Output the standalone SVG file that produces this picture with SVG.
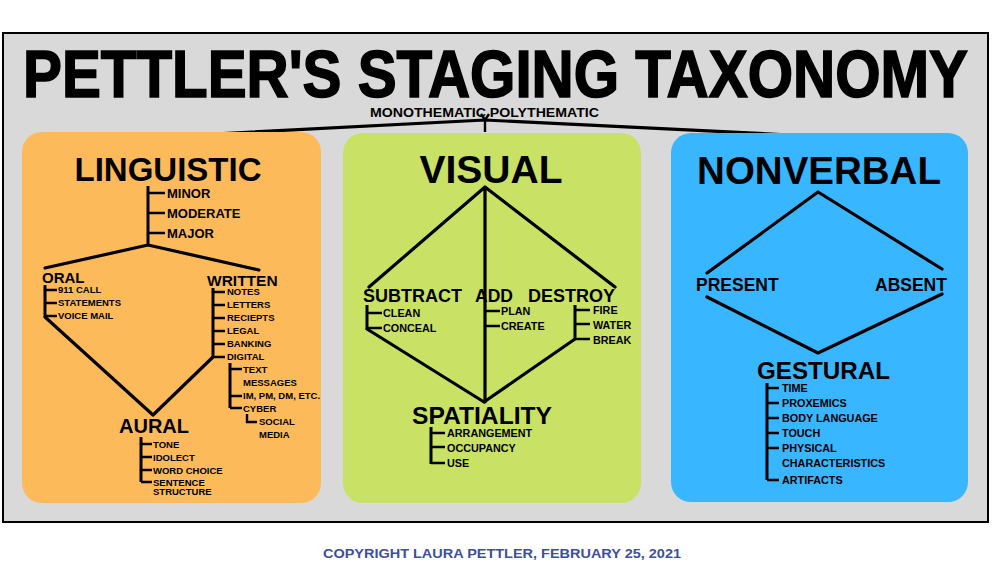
<svg xmlns="http://www.w3.org/2000/svg" width="1000" height="563" viewBox="0 0 1000 563">
<style>
.t{font-family:"Liberation Sans",Arial,sans-serif;font-weight:bold;fill:#000}
.h1{font-size:33px}
.h2{font-size:16px}
.s{font-size:9.5px}
.m{font-size:10.8px}
.ln{stroke:#000;stroke-width:3.2;fill:none;stroke-linecap:round;stroke-linejoin:round}
.tk{stroke:#000;stroke-width:2.4;fill:none}
.vl{stroke:#000;stroke-width:3;fill:none}
</style>
<rect x="0" y="0" width="1000" height="563" fill="#ffffff"/>
<rect x="3" y="33" width="985" height="489" fill="#d9d9d9" stroke="#000" stroke-width="2"/>
<g id="title">
<text class="t" x="23" y="97" font-size="66" textLength="945" lengthAdjust="spacingAndGlyphs" stroke="#000" stroke-width="1.6">PETTLER'S STAGING TAXONOMY</text>
<text class="t" x="370" y="117" font-size="13.5" textLength="229" lengthAdjust="spacingAndGlyphs">MONOTHEMATIC POLYTHEMATIC</text>
</g>
<g id="connectors-top">
<path class="ln" d="M195,135 L485,120 L790,135"/>
<path class="tk" d="M481,114 L485,120 L489,114 M485,120 L485,132"/>
</g>
<g id="panel-linguistic">
<rect x="22" y="132" width="299" height="371" rx="20" fill="#fdba5a"/>
</g>
<g id="panel-visual">
<rect x="343" y="133" width="298" height="370" rx="20" fill="#c9e265"/>
</g>
<g id="panel-nonverbal">
<rect x="671" y="133" width="297" height="369" rx="20" fill="#38b6ff"/>
</g>
<g id="connectors">
<!-- linguistic -->
<path class="vl" d="M148,186 L148,245"/>
<path class="tk" d="M148,193 H165 M148,213 H165 M148,233 H165"/>
<path class="ln" d="M45,268 L148,245 L259,270"/>
<path class="vl" d="M45,285 L45,317"/>
<path class="tk" d="M45,290 H57 M45,303 H57 M45,316 H57"/>
<path class="ln" d="M45,317 L153,415 L213,357"/>
<path class="vl" d="M213,288 L213,357"/>
<path class="tk" d="M213,292 H225 M213,305 H225 M213,318 H225 M213,331 H225 M213,344 H225 M213,357 H225"/>
<path class="vl" d="M230,363 L230,408"/>
<path class="tk" d="M230,369 H242 M230,396 H242 M230,408 H242"/>
<path class="tk" d="M247,414 L247,422 H257"/>
<path class="vl" d="M141,437 L141,482"/>
<path class="tk" d="M141,444 H152 M141,457 H152 M141,470 H152 M141,482 H152"/>
<!-- visual -->
<path class="ln" d="M369,287 L485,187 L615,287 M485,187 L485,402"/>
<path class="vl" d="M367,305 L367,329"/>
<path class="tk" d="M367,313 H382 M367,328 H382"/>
<path class="ln" d="M367,329 L484,402 L575,339"/>
<path class="tk" d="M485,311 H500 M485,326 H500"/>
<path class="vl" d="M575,305 L575,339"/>
<path class="tk" d="M575,310 H590 M575,324 H590 M575,339 H590"/>
<path class="vl" d="M431,427 L431,464"/>
<path class="tk" d="M431,433 H445 M431,447 H445 M431,463 H445"/>
<!-- nonverbal -->
<path class="ln" d="M707,273 L818,192 L942,269"/>
<path class="ln" d="M707,297 L818,353 L942,294"/>
<path class="vl" d="M767,383 L767,480"/>
<path class="tk" d="M767,388 H779 M767,403 H779 M767,418 H779 M767,433 H779 M767,448 H779 M767,480 H779"/>
</g>
<g id="linguistic">
<text class="t h1" x="168" y="181" text-anchor="middle">LINGUISTIC</text>
<text class="t" x="167" y="198" font-size="13">MINOR</text>
<text class="t" x="167" y="218" font-size="13">MODERATE</text>
<text class="t" x="167" y="238" font-size="13">MAJOR</text>
</g>
<g id="oral">
<text class="t" x="42" y="283" font-size="15">ORAL</text>
<text class="t s" x="58" y="293">911 CALL</text>
<text class="t s" x="58" y="306">STATEMENTS</text>
<text class="t s" x="58" y="319">VOICE MAIL</text>
</g>
<g id="written">
<text class="t" x="207" y="286" font-size="15.5">WRITTEN</text>
<text class="t s" x="227" y="295">NOTES</text>
<text class="t s" x="227" y="308">LETTERS</text>
<text class="t s" x="227" y="321">RECIEPTS</text>
<text class="t s" x="227" y="334">LEGAL</text>
<text class="t s" x="227" y="347">BANKING</text>
<text class="t s" x="227" y="360">DIGITAL</text>
<text class="t s" x="243" y="373">TEXT</text>
<text class="t s" x="243" y="386">MESSAGES</text>
<text class="t s" x="243" y="399">IM, PM, DM, ETC.</text>
<text class="t s" x="243" y="412">CYBER</text>
<text class="t s" x="259" y="425">SOCIAL</text>
<text class="t s" x="259" y="438">MEDIA</text>
</g>
<g id="aural">
<text class="t" x="119" y="433" font-size="20">AURAL</text>
<text class="t s" x="153" y="448">TONE</text>
<text class="t s" x="153" y="461">IDOLECT</text>
<text class="t s" x="153" y="474">WORD CHOICE</text>
<text class="t s" x="153" y="486">SENTENCE</text>
<text class="t s" x="153" y="495">STRUCTURE</text>
</g>
<g id="visual">
<text class="t" x="491" y="183" font-size="39" text-anchor="middle">VISUAL</text>
</g>
<g id="subtract">
<text class="t" x="363" y="302" font-size="18">SUBTRACT</text>
<text class="t m" x="383" y="317">CLEAN</text>
<text class="t m" x="383" y="332">CONCEAL</text>
</g>
<g id="add">
<text class="t" x="475" y="302" font-size="17.5">ADD</text>
<text class="t m" x="501" y="315">PLAN</text>
<text class="t m" x="501" y="330">CREATE</text>
</g>
<g id="destroy">
<text class="t" x="528" y="302" font-size="18">DESTROY</text>
<text class="t m" x="593" y="314">FIRE</text>
<text class="t m" x="593" y="329">WATER</text>
<text class="t m" x="593" y="344">BREAK</text>
</g>
<g id="spatiality">
<text class="t" x="412" y="424" font-size="23" textLength="140" lengthAdjust="spacingAndGlyphs">SPATIALITY</text>
<text class="t m" x="447" y="437">ARRANGEMENT</text>
<text class="t m" x="447" y="452">OCCUPANCY</text>
<text class="t m" x="447" y="467">USE</text>
</g>
<g id="nonverbal">
<text class="t" x="819" y="184" font-size="38.5" text-anchor="middle">NONVERBAL</text>
</g>
<g id="present">
<text class="t" x="696" y="291" font-size="17.5">PRESENT</text>
</g>
<g id="absent">
<text class="t" x="875" y="291" font-size="17.5">ABSENT</text>
</g>
<g id="gestural">
<text class="t" x="757" y="379" font-size="23" textLength="133" lengthAdjust="spacingAndGlyphs">GESTURAL</text>
<text class="t m" x="782" y="392">TIME</text>
<text class="t m" x="782" y="407">PROXEMICS</text>
<text class="t m" x="782" y="422">BODY LANGUAGE</text>
<text class="t m" x="782" y="437">TOUCH</text>
<text class="t m" x="782" y="452">PHYSICAL</text>
<text class="t m" x="782" y="467">CHARACTERISTICS</text>
<text class="t m" x="782" y="484">ARTIFACTS</text>
</g>
<g id="copyright">
<text x="323" y="558" font-family="Liberation Sans, Arial, sans-serif" font-weight="bold" font-size="13.5" fill="#3d4e9e" textLength="358" lengthAdjust="spacingAndGlyphs">COPYRIGHT LAURA PETTLER, FEBRUARY 25, 2021</text>
</g>
</svg>
